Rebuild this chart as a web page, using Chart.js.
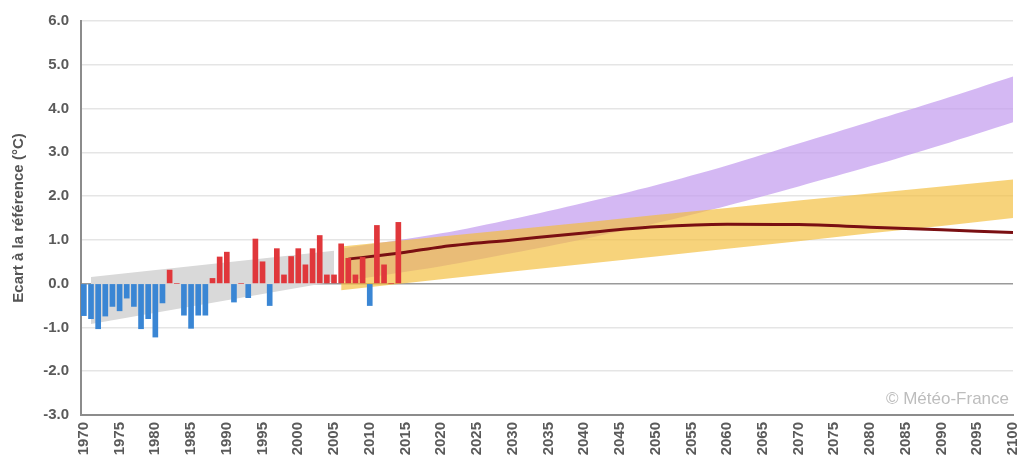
<!DOCTYPE html>
<html>
<head>
<meta charset="utf-8">
<script src="https://cdn.jsdelivr.net/npm/chart.js@4.4.1/dist/chart.umd.min.js"></script>
<style>
  html, body { margin: 0; padding: 0; background: #ffffff; }
  #wrap { position: relative; width: 1021px; height: 466px; }
</style>
</head>
<body>
<div id="wrap"><canvas id="c" width="1021" height="466"></canvas></div>
<script>
// ---- Data ----
const barYears = [1970,1971,1972,1973,1974,1975,1976,1977,1978,1979,
                  1980,1981,1982,1983,1984,1985,1986,1987,1988,1989,
                  1990,1991,1992,1993,1994,1995,1996,1997,1998,1999,
                  2000,2001,2002,2003,2004,2005,2006,2007,2008,2009,
                  2010,2011,2012,2013,2014];
const barValues = [-0.73,-0.80,-1.03,-0.74,-0.52,-0.62,-0.33,-0.52,-1.03,-0.80,
                   -1.22,-0.44,0.31,0.00,-0.72,-1.02,-0.72,-0.72,0.12,0.61,
                   0.72,-0.42,0.00,-0.32,1.02,0.50,-0.50,0.80,0.20,0.62,
                   0.80,0.43,0.80,1.10,0.20,0.20,0.91,0.58,0.20,0.60,
                   -0.50,1.33,0.43,0.00,1.40];

// observed-period envelope (grey)
const histYears = [1971, 2005];
const histLow   = [-0.92, 0.05];
const histHigh  = [0.15, 0.75];

// scenario envelopes
const scenYears  = [2006, 2020, 2030, 2040, 2050, 2060, 2070, 2080, 2090, 2100];
const orangeLow  = [-0.15, 0.10, 0.28, 0.45, 0.62, 0.80, 0.97, 1.15, 1.32, 1.50];
const orangeHigh = [0.85, 1.08, 1.24, 1.40, 1.57, 1.73, 1.90, 2.06, 2.22, 2.38];
const purpleLow  = [0.05, 0.40, 0.70, 1.02, 1.38, 1.78, 2.22, 2.68, 3.17, 3.69];
const purpleHigh = [0.80, 1.15, 1.48, 1.85, 2.25, 2.70, 3.20, 3.70, 4.20, 4.73];

// median projection (dark red)
const lineYears  = [2007, 2015, 2020, 2030, 2040, 2050, 2060, 2070, 2080, 2090, 2100];
const lineValues = [0.56, 0.72, 0.84, 1.00, 1.16, 1.30, 1.36, 1.35, 1.29, 1.23, 1.17];

const xTickLabels = [1970,1975,1980,1985,1990,1995,2000,2005,2010,2015,2020,2025,2030,
                     2035,2040,2045,2050,2055,2060,2065,2070,2075,2080,2085,2090,2095,2100];
const yTickLabels = [-3,-2,-1,0,1,2,3,4,5,6];

const yTitle = 'Ecart à la référence (°C)';
const watermark = '© Météo-France';

// ---- build ----
const pts = (xs, ys) => xs.map((x, i) => ({x: x, y: ys[i]}));
const FONT = "'Liberation Sans', Arial, sans-serif";

const watermarkPlugin = {
  id: 'watermark',
  afterDatasetsDraw(chart) {
    const ctx = chart.ctx;
    ctx.save();
    ctx.font = '17px ' + FONT;
    ctx.fillStyle = '#bdbdbd';
    ctx.textAlign = 'right';
    ctx.textBaseline = 'middle';
    ctx.fillText(watermark, 1009, 399);
    ctx.restore();
  }
};

new Chart(document.getElementById('c'), {
  type: 'bar',
  data: {
    datasets: [
      { type: 'bar', label: 'obs', data: pts(barYears, barValues),
        backgroundColor: barValues.map(v => v < 0 ? '#3a86d4' : '#e0373b'),
        barThickness: 5, order: 0 },
      { type: 'line', label: 'medianne', data: pts(lineYears, lineValues),
        borderColor: '#7a0f12', borderWidth: 3, pointRadius: 0, fill: false,
        tension: 0.4, cubicInterpolationMode: 'monotone', order: 1 },
      { type: 'line', label: 'histLow', data: pts(histYears, histLow),
        borderWidth: 0, pointRadius: 0, fill: false, order: 5 },
      { type: 'line', label: 'histHigh', data: pts(histYears, histHigh),
        borderWidth: 0, pointRadius: 0, fill: '-1', backgroundColor: '#d9d9d9', order: 5 },
      { type: 'line', label: 'purpleLow', data: pts(scenYears, purpleLow),
        borderWidth: 0, pointRadius: 0, fill: false, order: 4, tension: 0.3 },
      { type: 'line', label: 'purpleHigh', data: pts(scenYears, purpleHigh),
        borderWidth: 0, pointRadius: 0, fill: '-1', backgroundColor: 'rgba(196,156,238,0.72)', order: 4, tension: 0.3 },
      { type: 'line', label: 'orangeLow', data: pts(scenYears, orangeLow),
        borderWidth: 0, pointRadius: 0, fill: false, order: 3 },
      { type: 'line', label: 'orangeHigh', data: pts(scenYears, orangeHigh),
        borderWidth: 0, pointRadius: 0, fill: '-1', backgroundColor: 'rgba(243,190,60,0.68)', order: 3 }
    ]
  },
  options: {
    responsive: false,
    animation: false,
    events: [],
    layout: { padding: { top: 16, right: 8, bottom: 0, left: 0 } },
    plugins: { legend: { display: false }, tooltip: { enabled: false } },
    scales: {
      x: {
        type: 'linear',
        offset: false,
        min: 1969.6,
        max: 2100,
        afterBuildTicks: s => { s.ticks = xTickLabels.map(v => ({ value: v })); },
        afterFit: s => { s.height = 51; s.paddingLeft = 0; s.paddingRight = 0; },
        grid: { display: false, drawTicks: false, offset: false },
        border: { display: true, color: '#8c8c8c', width: 2 },
        ticks: {
          autoSkip: false, maxRotation: 90, minRotation: 90, padding: 7,
          color: '#5a5a5a', font: { family: FONT, size: 15, weight: 'bold' },
          callback: v => String(v)
        }
      },
      y: {
        min: -3, max: 6,
        afterBuildTicks: s => { s.ticks = yTickLabels.map(v => ({ value: v })); },
        afterFit: s => { s.width = 81; },
        grid: {
          color: c => (c.tick && c.tick.value === 0) ? '#9a9a9a' : '#e5e5e5',
          lineWidth: 1.5, drawTicks: false
        },
        border: { display: true, color: '#8c8c8c', width: 2 },
        ticks: {
          padding: 12, color: '#5a5a5a',
          font: { family: FONT, size: 15, weight: 'bold' },
          callback: v => Number(v).toFixed(1)
        },
        title: {
          display: true, text: yTitle, color: '#555555',
          font: { family: FONT, size: 15, weight: 'bold' },
          padding: { top: 10, bottom: 0 }
        }
      }
    }
  },
  plugins: [watermarkPlugin]
});
</script>
</body>
</html>
